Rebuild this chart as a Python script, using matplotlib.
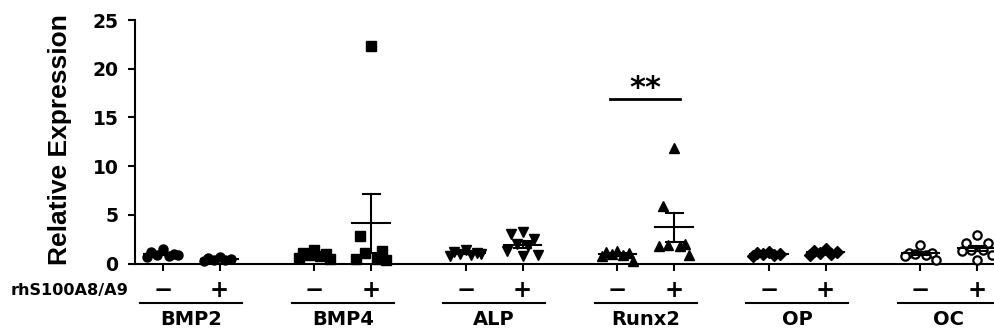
import numpy as np
import matplotlib
matplotlib.use("Agg")
import matplotlib.pyplot as plt
from matplotlib.transforms import blended_transform_factory

plt.rcParams['font.family'] = ['DejaVu Sans']

genes = ["BMP2", "BMP4", "ALP", "Runx2", "OP", "OC"]
treat_labels = ["\u2212", "+"]
row_label = "rhS100A8/A9"
y_label = "Relative Expression"
yticks = [0, 5, 10, 15, 20, 25]

BMP2_minus = [1.5, 1.2, 1.0, 0.9, 0.8, 0.7, 0.9]
BMP2_plus = [0.7, 0.6, 0.5, 0.4, 0.4, 0.3]
BMP4_minus = [1.4, 1.1, 1.0, 0.9, 0.8, 0.6, 0.5]
BMP4_plus = [22.3, 2.8, 1.3, 1.1, 0.5, 0.5, 0.4]
ALP_minus = [1.4, 1.2, 1.1, 1.0, 0.9, 0.8, 1.0]
ALP_plus = [3.2, 3.0, 2.5, 2.0, 1.8, 1.3, 0.9, 0.8]
Runx2_minus = [1.3, 1.2, 1.1, 1.0, 0.9, 0.8, 0.3]
Runx2_plus = [11.9, 5.9, 2.0, 1.9, 1.8, 1.8, 0.9]
OP_minus = [1.2, 1.1, 1.0, 1.0, 0.9, 0.8]
OP_plus = [1.5, 1.3, 1.2, 1.1, 1.0, 0.9]
OC_minus = [1.9, 1.1, 1.1, 1.0, 0.9, 0.8, 0.4]
OC_plus = [2.9, 2.1, 2.1, 1.4, 1.4, 1.3, 0.9, 0.4]

data = [(BMP2_minus, BMP2_plus), (BMP4_minus, BMP4_plus), (ALP_minus, ALP_plus),
        (Runx2_minus, Runx2_plus), (OP_minus, OP_plus), (OC_minus, OC_plus)]
markers = ['o', 's', 'v', '^', 'D', 'o']
filled = [True, True, True, True, True, False]
sig_gene = "Runx2"
sig_text = "**"
sig_y = 16.9

offsets = [0.0, -0.2, 0.2, -0.1, 0.1, -0.27, 0.27, 0.0]
group_gap = 8 / 3

fig = plt.figure(figsize=(9.95, 3.36), dpi=100)
ax = fig.add_axes([135 / 995, (336 - 263.5) / 336, 1 - 135 / 995, 243.5 / 336])

xs_all = []
for gi, (pair, mk, fl) in enumerate(zip(data, markers, filled)):
    for ti, vals in enumerate(pair):
        xc = gi * group_gap + ti
        xs_all.append(xc)
        vals = np.asarray(vals)
        xo = np.array([xc + offsets[k % len(offsets)] for k in range(len(vals))])
        if fl:
            ax.plot(xo, vals, linestyle='none', marker=mk, ms=6.5, mfc='black', mec='black',
                    clip_on=False, zorder=3)
        else:
            ax.plot(xo, vals, linestyle='none', marker=mk, ms=6, mfc='white', mec='black',
                    mew=1.6, clip_on=False, zorder=3)
        m = vals.mean()
        sem = vals.std(ddof=1) / np.sqrt(len(vals))
        ax.plot([xc - 0.33, xc + 0.33], [m, m], color='black', lw=1.5, zorder=4)
        ax.plot([xc, xc], [m - sem, m + sem], color='black', lw=1.5, zorder=4)
        for yv in (m - sem, m + sem):
            ax.plot([xc - 0.15, xc + 0.15], [yv, yv], color='black', lw=1.5, zorder=4)

ax.set_xlim(-0.49, 5 * group_gap + 1 + 18 / 57)
ax.set_ylim(0, 25)
ax.set_yticks(yticks)
ax.set_yticklabels([str(v) for v in yticks], fontsize=13.5, fontweight='bold')
ax.set_xticks(xs_all)
ax.set_xticklabels([])
ax.tick_params(axis='both', direction='out', length=5, width=1.5, colors='black')
ax.tick_params(axis='y', pad=7)
for s in ['top', 'right']:
    ax.spines[s].set_visible(False)
for s in ['left', 'bottom']:
    ax.spines[s].set_linewidth(1.5)
ax.set_ylabel(y_label, fontsize=19, fontweight='bold', family=['Liberation Sans', 'DejaVu Sans'])
ax.yaxis.set_label_coords((72 - 135) / 860, 0.51)

trans = blended_transform_factory(ax.transData, ax.transAxes)
ax.text(-0.49 - 7 / 57, -0.11, row_label, transform=trans, ha='right', va='center',
        fontsize=11.6, fontweight='bold')
for gi, g in enumerate(genes):
    for ti in range(2):
        xc = gi * group_gap + ti
        ax.text(xc, -0.11, treat_labels[ti], transform=trans, ha='center', va='center',
                fontsize=16.5, fontweight='bold')
    gc = gi * group_gap + 0.5
    ax.plot([gc - 0.9, gc + 0.9], [-0.162, -0.162], transform=trans, color='black',
            lw=1.5, clip_on=False)
    ax.text(gc, -0.23, g, transform=trans, ha='center', va='center', fontsize=14,
            fontweight='bold')

si = genes.index(sig_gene)
sx = si * group_gap
ax.plot([sx - 0.12, sx + 1.1], [sig_y, sig_y], color='black', lw=2)
ax.text(sx + 0.5, sig_y + 0.2, sig_text, ha='center', va='baseline', fontsize=22,
        fontweight='bold')

fig.savefig("out.png", dpi=100)
